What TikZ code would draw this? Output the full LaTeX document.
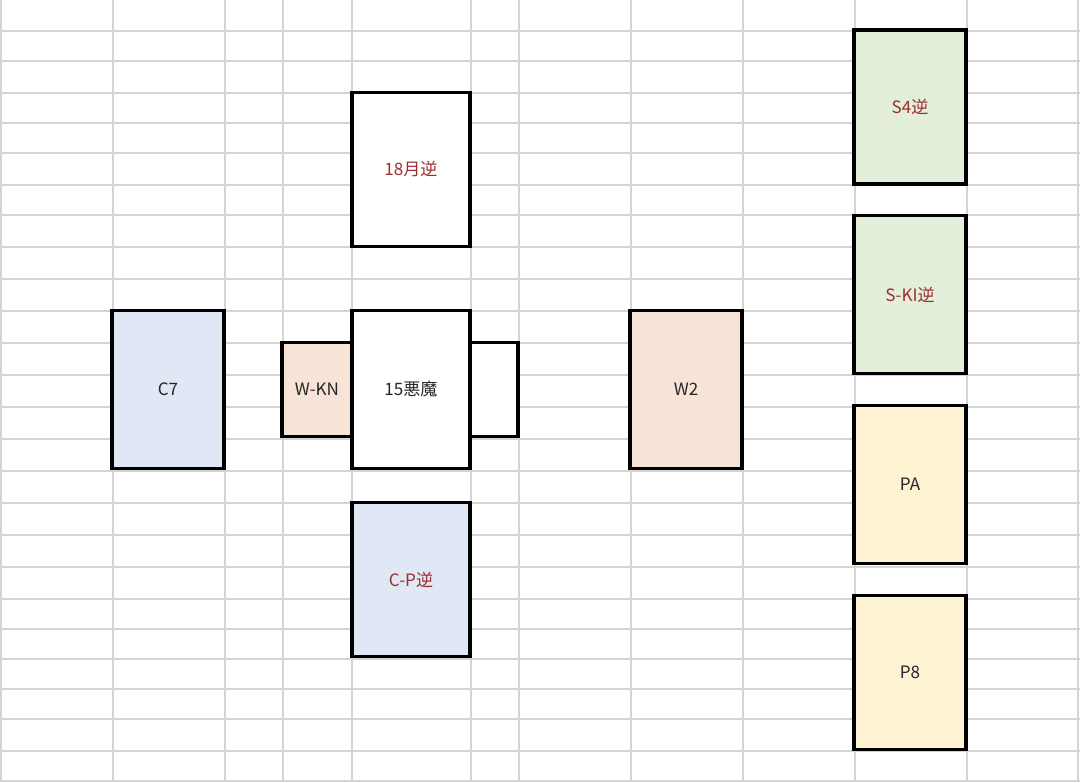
\documentclass[tikz,border=0pt]{standalone}
\usepackage{fontspec}
\setmainfont{Noto Sans CJK JP}
\usepackage{tikz}
\usetikzlibrary{positioning}

\definecolor{gridgray}{HTML}{D4D4D4}
\definecolor{revred}{HTML}{9B2F2F}
\definecolor{cupblue}{HTML}{DFE8F4}
\definecolor{wandpeach}{HTML}{F8E4D7}
\definecolor{swordgreen}{HTML}{E3EFDB}
\definecolor{pentyellow}{HTML}{FDF3D3}

\begin{document}
\begin{tikzpicture}[
  x=0.75pt,y=-0.75pt,
  card/.style={draw,line width=2.3pt,fill=white,inner sep=0pt,
    minimum width=84pt,minimum height=118pt,font=\fontsize{12.8}{15}\selectfont,
    text=black!85},
  wide/.style={card,minimum width=88.5pt},
  side/.style={card,minimum height=71pt},
  rev/.style={text=revred}
]
\useasboundingbox (0,0) rectangle (1080,782);
% sheet grid
\foreach \gx in {1,113,225,283,352,471,519,631,743,855,967,1078}
  \draw[gridgray,line width=1.1pt] (\gx,0) -- (\gx,782);
\foreach \gy in {31,61,93,123,153,185,215,247,279,311,343,375,407,439,471,503,535,567,599,629,659,689,719,751,781}
  \draw[gridgray,line width=1.1pt] (0,\gy) -- (1080,\gy);
% spread
\node[wide,rev,minimum height=116pt] (moon) at (411,169.5) {18月逆};
\node[side,fill=wandpeach,minimum width=52.5pt] (wkn) at (317,389.5) {W-KN};
\node[side,minimum width=36pt] (extra) at (494,389.5) {};
\node[wide,minimum height=119pt] (devil) at (411,389.5) {15悪魔};
\node[wide,rev,fill=cupblue,minimum height=116pt] (cp) at (411,579.5) {C-P逆};
\node[card,fill=cupblue,minimum height=119pt] (c7) at (168,389.5) {C7};
\node[card,fill=wandpeach,minimum height=119pt] (w2) at (686,389.5) {W2};
\node[card,rev,fill=swordgreen,minimum height=115.5pt] (s4) at (910,107) {S4逆};
\node[card,rev,fill=swordgreen] (ski) at (910,294.5) {S-KI逆};
\node[card,fill=pentyellow] (pa) at (910,484.5) {PA};
\node[card,fill=pentyellow,minimum height=115pt] (p8) at (910,672.5) {P8};
\end{tikzpicture}
\end{document}
